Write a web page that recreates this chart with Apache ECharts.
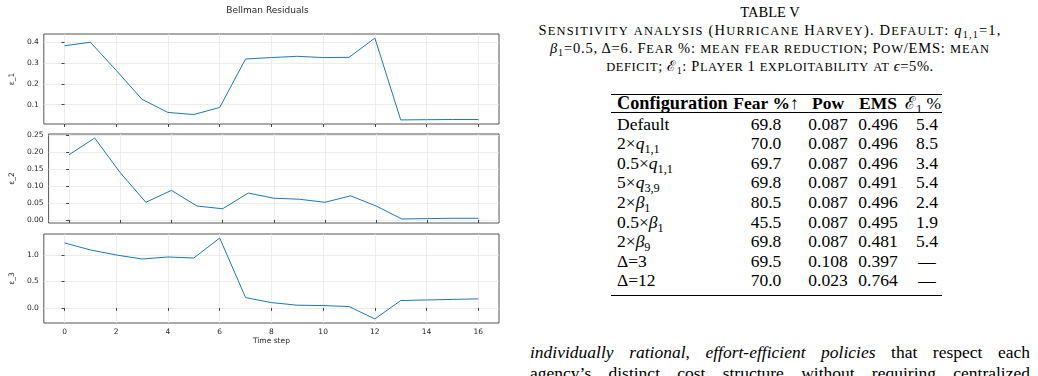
<!DOCTYPE html>
<html>
<head>
<meta charset="utf-8">
<script src="https://cdn.jsdelivr.net/npm/echarts@6/dist/echarts.min.js"></script>
<style>
  body { margin: 0; width: 1038px; height: 376px; overflow: hidden; position: relative; background: #fff;
         font-family: "Liberation Serif", "Times New Roman", serif; color: #000; }
  #chart { position: absolute; left: 0; top: 0; width: 520px; height: 376px; }
  .capline { position: absolute; left: 520px; width: 500px; text-align: center;
             font-size: 14.5px; line-height: 18px; white-space: nowrap; }
  .sm { font-size: 0.86em; }
  sub { font-size: 70%; line-height: 0; vertical-align: -0.3em; }
  .rule { position: absolute; left: 611px; width: 331px; background: #000; }
  .cell { position: absolute; font-size: 17.5px; line-height: 20px; white-space: nowrap; }
  .c { transform: translateX(-50%); }
  .hd { font-weight: bold; }
  .nb { font-weight: normal; }
  .txt { position: absolute; left: 530px; width: 500px; font-size: 17.5px; line-height: 20px;
         text-align: justify; text-align-last: justify; white-space: nowrap; }
</style>
</head>
<body>
<div id="chart"></div>
<div id="cap"></div>
<div id="table"></div>
<div class="txt" style="top:342px"><i>individually rational</i>, <i>effort-efficient policies</i> that respect each</div>
<div class="txt" style="top:363px">agency’s distinct cost structure without requiring centralized</div>
<script>
var timeSteps = [0, 1, 2, 3, 4, 5, 6, 7, 8, 9, 10, 11, 12, 13, 14, 15, 16];
var eps1 = [0.384, 0.401, 0.265, 0.125, 0.062, 0.052, 0.086, 0.320, 0.327, 0.333, 0.327, 0.328, 0.421, 0.026, 0.027, 0.028, 0.028];
var eps2 = [0.192, 0.241, 0.139, 0.052, 0.087, 0.041, 0.033, 0.079, 0.064, 0.061, 0.052, 0.071, 0.041, 0.003, 0.004, 0.005, 0.005];
var eps3 = [1.228, 1.095, 1.000, 0.924, 0.962, 0.943, 1.320, 0.195, 0.100, 0.051, 0.044, 0.025, -0.209, 0.139, 0.150, 0.160, 0.171];
var xTicks = [0, 2, 4, 6, 8, 10, 12, 14, 16];
var eps1Ticks = [0.1, 0.2, 0.3, 0.4];
var eps2Ticks = [0, 0.05, 0.10, 0.15, 0.20, 0.25];
var eps3Ticks = [0, 0.5, 1.0];

var tableHeader = ['Configuration', 'Fear %↑', 'Pow', 'EMS', '<span class="nb">ℰ<sub>1</sub> %</span>'];
var configLabels = ['Default', '2×<i>q</i><sub>1,1</sub>', '0.5×<i>q</i><sub>1,1</sub>', '5×<i>q</i><sub>3,9</sub>',
    '2×<i>β</i><sub>1</sub>', '0.5×<i>β</i><sub>1</sub>', '2×<i>β</i><sub>9</sub>', 'Δ=3', 'Δ=12'];
var fearPct = [69.8, 70.0, 69.7, 69.8, 80.5, 45.5, 69.8, 69.5, 70.0];
var powDeficit = [0.087, 0.087, 0.087, 0.087, 0.087, 0.087, 0.087, 0.108, 0.023];
var emsDeficit = [0.496, 0.496, 0.496, 0.491, 0.496, 0.495, 0.481, 0.397, 0.764];
var exploit = [5.4, 8.5, 3.4, 5.4, 2.4, 1.9, 5.4, null, null];

// matplotlib style 5% margins
function limits(vals) {
    var lo = Math.min.apply(null, vals), hi = Math.max.apply(null, vals);
    var m = (hi - lo) * 0.05;
    return [lo - m, hi + m];
}
function pairs(ys) {
    return timeSteps.map(function (t, i) { return [t, ys[i]]; });
}

var blue = '#1f77b4';
var txtColor = '#262626';
var panels = [
    { ys: eps1, ticks: eps1Ticks, name: 'ε_1', dec: 1, gap: 15, top: 34, height: 90 },
    { ys: eps2, ticks: eps2Ticks, name: 'ε_2', dec: 2, gap: 18.5, top: 134, height: 89 },
    { ys: eps3, ticks: eps3Ticks, name: 'ε_3', dec: 1, gap: 15, top: 234, height: 89 }
];

var xLim = [timeSteps[0] - 0.8, timeSteps[timeSteps.length - 1] + 0.8];
var grids = [], xAxes = [], yAxes = [], series = [];
panels.forEach(function (p, i) {
    var yl = limits(p.ys);
    var last = i === panels.length - 1;
    grids.push({ left: 36, top: p.top, width: 463, height: p.height, show: true,
        borderColor: '#555', borderWidth: 1, backgroundColor: 'transparent' });
    xAxes.push({
        gridIndex: i, type: 'value', min: xLim[0], max: xLim[1],
        axisLine: { show: false },
        axisTick: { show: true, length: 3, customValues: xTicks, lineStyle: { color: '#444' } },
        axisLabel: { show: last, customValues: xTicks, fontSize: 7.5, color: txtColor, margin: 5, fontFamily: 'DejaVu Sans' },
        splitLine: { show: true, lineStyle: { color: '#e8e8e8', width: 0.8 } },
        name: last ? 'Time step' : '', nameLocation: 'middle', nameGap: 13.5,
        nameTextStyle: { fontSize: 7.5, color: txtColor, fontFamily: 'DejaVu Sans' }
    });
    yAxes.push({
        gridIndex: i, type: 'value', min: yl[0], max: yl[1],
        axisLine: { show: false },
        axisTick: { show: true, length: 3, customValues: p.ticks, lineStyle: { color: '#444' } },
        axisLabel: { customValues: p.ticks, fontSize: 7.5, color: txtColor, margin: 5, fontFamily: 'DejaVu Sans',
            formatter: (function (d) { return function (v) { return v.toFixed(d); }; })(p.dec) },
        splitLine: { show: true, lineStyle: { color: '#e8e8e8', width: 0.8 } },
        name: p.name, nameLocation: 'middle', nameRotate: 90, nameGap: p.gap,
        nameTextStyle: { fontSize: 7.5, color: txtColor, fontFamily: 'DejaVu Sans' }
    });
    series.push({
        type: 'line', xAxisIndex: i, yAxisIndex: i, data: pairs(p.ys),
        symbol: 'none', lineStyle: { color: blue, width: 1 }, animation: false
    });
});

var chart = echarts.init(document.getElementById('chart'));
chart.setOption({
    backgroundColor: '#fff',
    animation: false,
    title: { text: 'Bellman Residuals', left: 267.5, top: 6.5, textAlign: 'center', padding: 0,
        textStyle: { fontSize: 9, fontWeight: 'normal', color: txtColor, fontFamily: 'DejaVu Sans' } },
    grid: grids,
    xAxis: xAxes,
    yAxis: yAxes,
    series: series
});

// caption: LaTeX-like small caps, each line stretched to its width in the paper
function sc(s) {
    return s.replace(/[a-z]+/g, function (w) { return '<span class="sm">' + w.toUpperCase() + '</span>'; });
}
var capLines = [
    { html: 'TABLE V', w: 0 },
    { html: sc('Sensitivity analysis (Hurricane Harvey). Default: ') + '<i>q</i><sub>1,1</sub>=1,', w: 462 },
    { html: '<i>β</i><sub>1</sub>=0.5, Δ=6. ' + sc('Fear %: mean fear reduction; Pow/EMS: mean'), w: 439 },
    { html: sc('deficit; ') + 'ℰ<sub>1</sub>' + sc(': Player 1 exploitability at ') + '<i>ϵ</i>=5%.', w: 327 }
];
var cap = document.getElementById('cap');
capLines.forEach(function (l, i) {
    var d = document.createElement('div');
    d.className = 'capline';
    d.style.top = (3 + i * 18) + 'px';
    var s = document.createElement('span');
    s.innerHTML = l.html;
    d.appendChild(s);
    cap.appendChild(d);
    if (l.w) {
        var n = s.textContent.length;
        var extra = (l.w - s.getBoundingClientRect().width) / (n - 1);
        s.style.letterSpacing = extra.toFixed(3) + 'px';
    }
});

// table (booktabs style)
var tbl = document.getElementById('table');
var colX = [617, 766, 828, 878, 923];
function cell(html, x, yc, cls, fs) {
    var d = document.createElement('div');
    d.className = 'cell ' + (cls || '');
    d.style.left = x + 'px';
    d.style.top = (yc - 10) + 'px';
    if (fs) d.style.fontSize = fs + 'px';
    d.innerHTML = html;
    tbl.appendChild(d);
}
function rule(y, h) {
    var r = document.createElement('div');
    r.className = 'rule';
    r.style.top = y + 'px';
    r.style.height = h + 'px';
    tbl.appendChild(r);
}
rule(93.5, 1.5);
rule(111.5, 1);
rule(294.5, 1.5);
tableHeader.forEach(function (h, j) { cell(h, colX[j], 102.5, 'hd' + (j ? ' c' : ''), j ? 17.5 : 18.3); });
configLabels.forEach(function (lab, i) {
    var yc = 123.5 + i * 19.6;
    cell(lab, colX[0], yc, '');
    cell(fearPct[i].toFixed(1), colX[1], yc, 'c');
    cell(powDeficit[i].toFixed(3), colX[2], yc, 'c');
    cell(emsDeficit[i].toFixed(3), colX[3], yc, 'c');
    cell(exploit[i] === null ? '—' : exploit[i].toFixed(1), colX[4] + 4, yc, 'c');
});
</script>
</body>
</html>
